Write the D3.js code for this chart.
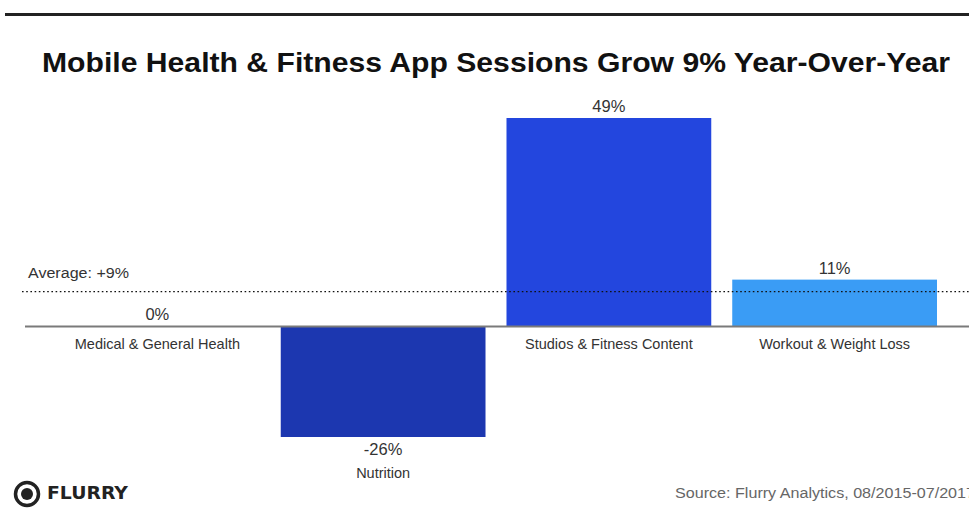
<!DOCTYPE html>
<html><head><meta charset="utf-8">
<script src="https://cdn.jsdelivr.net/npm/d3@7"></script>
<style>body{margin:0;background:#fff}svg{display:block;font-family:"Liberation Sans",Arial,sans-serif}</style>
</head><body>
<svg id="c" width="969" height="517"></svg>
<script>
const categories = ["Medical & General Health","Nutrition","Studios & Fitness Content","Workout & Weight Loss"];
const values = [0, -26, 49, 11];
const valueLabels = ["0%","-26%","49%","11%"];
const colors = ["#1c37b0","#1c37b0","#2346de","#3a9cf5"];
const averageValue = 9;
const averageLabel = "Average: +9%";
const title = "Mobile Health & Fitness App Sessions Grow 9% Year-Over-Year";
const source = "Source: Flurry Analytics, 08/2015-07/2017";

const svg = d3.select("#c");
const x = d3.scaleBand().domain(categories).range([55, 937]).paddingInner(0.093).paddingOuter(0);
const y = d3.scaleLinear().domain([-26, 49]).range([437, 118]);

// top rule
svg.append("rect").attr("x",5).attr("y",13).attr("width",964).attr("height",3).attr("fill","#222");
svg.append("text").attr("x",42).attr("y",72)
  .attr("font-size",28).attr("font-weight","bold").attr("fill","#111")
  .attr("textLength",908).attr("lengthAdjust","spacingAndGlyphs").text(title);

// bars
svg.selectAll("rect.bar").data(values).join("rect").attr("class","bar")
  .attr("x",(d,i)=>x(categories[i])).attr("width",x.bandwidth())
  .attr("y",d=>y(Math.max(0,d))).attr("height",d=>Math.abs(y(d)-y(0)))
  .attr("fill",(d,i)=>colors[i]);

// zero line
svg.append("line").attr("x1",25).attr("x2",969).attr("y1",y(0)).attr("y2",y(0))
  .attr("stroke","#7a7a7a").attr("stroke-width",2);

// average line
svg.append("line").attr("x1",22).attr("x2",969).attr("y1",y(averageValue)+3.5).attr("y2",y(averageValue)+3.5)
  .attr("stroke","#111").attr("stroke-width",1.4).attr("stroke-dasharray","1.6,2.6");
svg.append("text").attr("x",28).attr("y",y(averageValue)-10).attr("font-size",15.5).attr("fill","#333")
  .attr("textLength",101).attr("lengthAdjust","spacingAndGlyphs").text(averageLabel);

// value labels
svg.selectAll("text.val").data(values).join("text").attr("class","val")
  .attr("x",(d,i)=>x(categories[i])+x.bandwidth()/2)
  .attr("y",d=> d<0 ? y(d)+18 : y(d)-6)
  .attr("text-anchor","middle").attr("font-size",16.5).attr("fill","#333")
  .text((d,i)=>valueLabels[i]);

// category labels
svg.selectAll("text.cat").data(values).join("text").attr("class","cat")
  .attr("x",(d,i)=>x(categories[i])+x.bandwidth()/2)
  .attr("y",d=> d<0 ? y(d)+41 : y(0)+23)
  .attr("text-anchor","middle").attr("font-size",14.5).attr("fill","#333")
  .text((d,i)=>categories[i]);

// logo
const g = svg.append("g");
g.append("circle").attr("cx",27).attr("cy",494).attr("r",11.5).attr("fill","none").attr("stroke","#222").attr("stroke-width",3.5);
g.append("circle").attr("cx",27).attr("cy",494).attr("r",6).attr("fill","#222");
g.append("path").attr("d","M 25 488 A 6 6 0 0 0 25 500 A 4.5 6 0 0 1 25 488 Z").attr("fill","#fff");
g.append("text").attr("x",47).attr("y",499).attr("font-size",18).attr("font-weight","900")
  .attr("font-family","'DejaVu Sans',sans-serif").attr("fill","#222")
  .attr("textLength",81).attr("lengthAdjust","spacingAndGlyphs").text("FLURRY");

svg.append("text").attr("x",675).attr("y",498).attr("font-size",14).attr("fill","#666")
  .attr("textLength",300).attr("lengthAdjust","spacingAndGlyphs").text(source);
</script>
</body></html>
